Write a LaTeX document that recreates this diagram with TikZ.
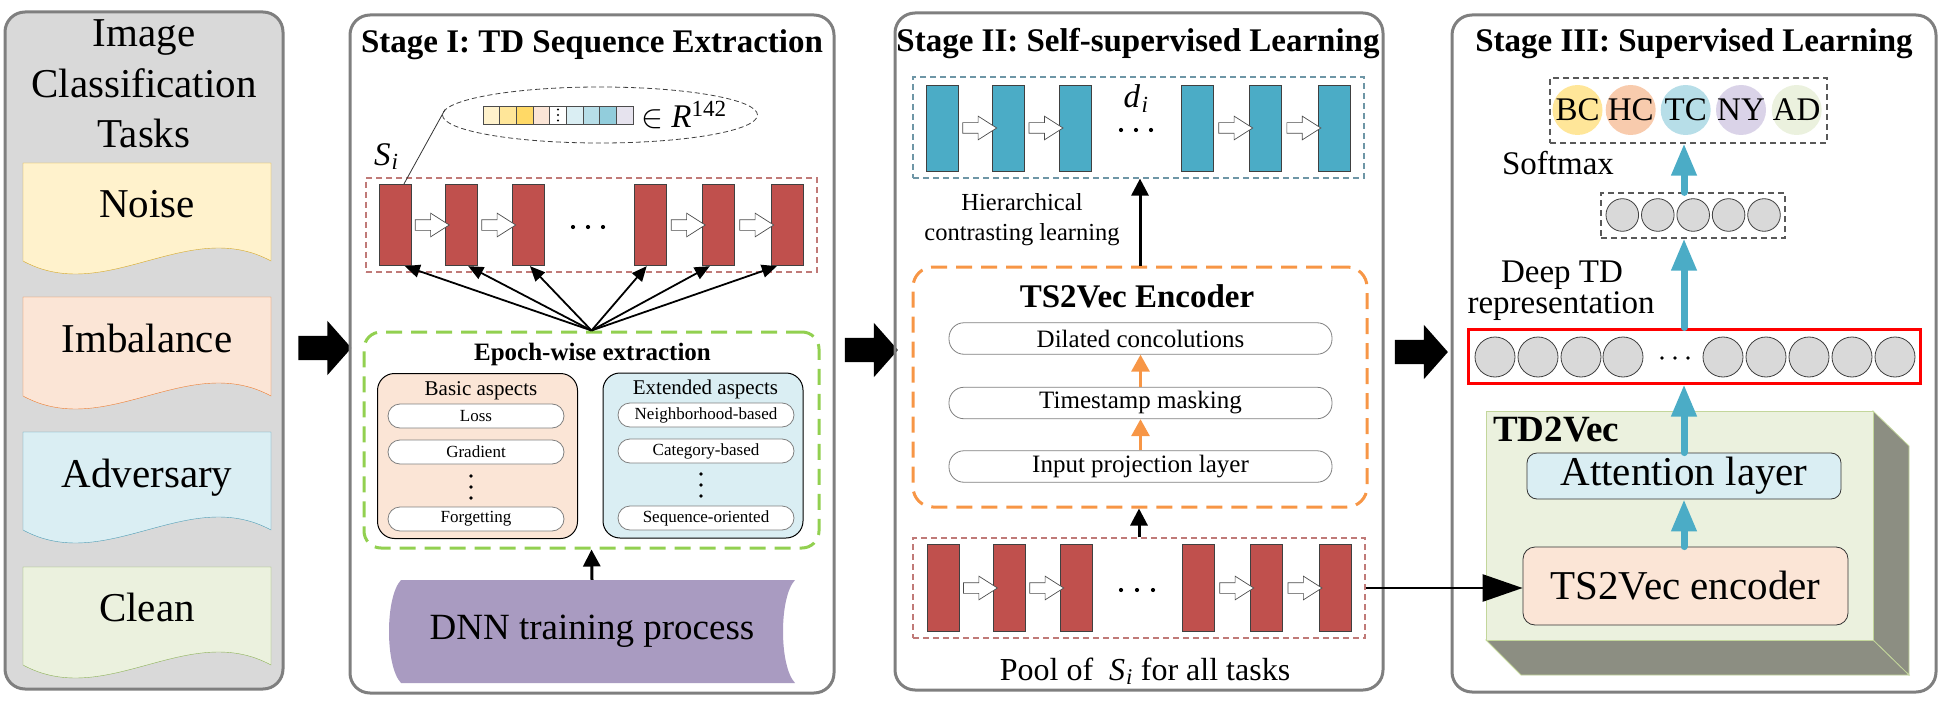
\documentclass[tikz,border=0pt]{standalone}
\usepackage{fix-cm}
\usepackage{fontspec}
\setmainfont{Liberation Serif}
\usetikzlibrary{arrows.meta,calc,positioning,shapes.geometric,shapes.arrows}

\definecolor{panelgray}{HTML}{7F7F7F}
\definecolor{panelfill}{HTML}{D9D9D9}
\definecolor{seqred}{HTML}{C0504D}
\definecolor{seqdash}{HTML}{C07A78}
\definecolor{tdteal}{HTML}{4BACC6}
\definecolor{tealdash}{HTML}{6E96A6}
\definecolor{encorange}{HTML}{F79646}
\definecolor{epochgreen}{HTML}{92D050}
\definecolor{peach}{HTML}{FBE5D6}
\definecolor{paleblue}{HTML}{DAEEF3}
\definecolor{palegreen}{HTML}{EBF1DE}
\definecolor{paleyellow}{HTML}{FFF2CC}
\definecolor{noiseline}{HTML}{D6A92A}
\definecolor{imbline}{HTML}{ED7D31}
\definecolor{advline}{HTML}{4F9DB5}
\definecolor{cleanline}{HTML}{8DB257}
\definecolor{dnnpurple}{HTML}{A99BC1}
\definecolor{sidegray}{HTML}{8C8E82}
\definecolor{boxgreen}{HTML}{C3D69B}
\definecolor{bcyellow}{HTML}{FFE699}
\definecolor{hcpeach}{HTML}{F8CBAD}
\definecolor{tcblue}{HTML}{B7DEE8}
\definecolor{nypurple}{HTML}{DAD3E8}
\definecolor{featgray}{HTML}{D9D9D9}
\definecolor{cellA}{HTML}{FFF2CC}
\definecolor{cellB}{HTML}{FFE699}
\definecolor{cellC}{HTML}{FFD966}
\definecolor{cellD}{HTML}{FBE5D6}
\definecolor{cellF}{HTML}{DAEEF3}
\definecolor{cellG}{HTML}{B7DEE8}
\definecolor{cellH}{HTML}{92CDDC}
\definecolor{cellI}{HTML}{E6E3EE}

\begin{document}
\begin{tikzpicture}[x=1pt,y=-1pt,
	panel/.style={draw=panelgray,line width=3pt,rounded corners=20pt},
	bigtext/.style={font=\fontsize{41}{49}\selectfont},
	titletext/.style={font=\fontsize{33}{40}\selectfont\bfseries},
	midtext/.style={font=\fontsize{33}{40}\selectfont},
	seqbox/.style={draw=black!75,line width=0.8pt,minimum width=32pt,inner sep=0pt},
	hollowarr/.style={single arrow,draw=black!70,fill=white,line width=0.7pt,inner sep=5pt,minimum height=34pt,single arrow head extend=6.5pt,single arrow tip angle=65},
	blockarr/.style={single arrow,fill=black,inner sep=12pt,minimum height=53pt,single arrow head extend=15pt,single arrow tip angle=97},
	groupbox/.style={dash pattern=on 6pt off 4pt,line width=1.2pt,inner sep=0pt},
	veccell/.style={draw=black!70,line width=0.8pt,minimum width=16.7pt,minimum height=18pt,inner sep=0pt},
	aspectbox/.style={draw=black,line width=1pt,rounded corners=17pt,minimum width=200pt,minimum height=165pt},
	aspectpill/.style={draw=black!50,fill=white,line width=0.8pt,rounded corners=12pt,minimum width=176pt,minimum height=24pt,inner sep=0pt,font=\fontsize{17}{17}\selectfont},
	layerpill/.style={draw=black!50,fill=white,line width=0.8pt,rounded corners=15pt,minimum width=383pt,minimum height=31.5pt,inner sep=0pt,font=\fontsize{25}{25}\selectfont},
	classdot/.style={circle,inner sep=0pt,minimum size=50pt},
	neuron/.style={circle,draw=black!75,fill=featgray,line width=0.8pt,inner sep=0pt},
	fanarrow/.style={-{Triangle[length=15pt,width=13pt]},line width=1.8pt},
	uparrow/.style={-{Triangle[length=17pt,width=17pt]},line width=3pt},
	orangearrow/.style={-{Triangle[length=17pt,width=18pt]},line width=3pt,encorange},
	tealarrow/.style={-{Triangle[length=32pt,width=24pt]},line width=7pt,line cap=round,tdteal}]

	\useasboundingbox (0,0) rectangle (1941,706);

	\draw[panel,fill=panelfill] (5,12) rectangle (283,689);
	\draw (144,47) node (task1)[anchor=base,bigtext]{Image};
	\draw (144,98) node (task2)[anchor=base,bigtext]{Classification};
	\draw (144,148) node (task3)[anchor=base,bigtext]{Tasks};

	\draw[draw=noiseline,fill=paleyellow] (23,163) -- (271,163) -- (271,261) .. controls (188,216) and (106,306) .. (23,261) -- cycle;
	\draw[draw=imbline,fill=peach] (23,297) -- (271,297) -- (271,396) .. controls (188,351) and (106,441) .. (23,396) -- cycle;
	\draw[draw=advline,fill=paleblue] (23,432) -- (271,432) -- (271,530) .. controls (188,485) and (106,575) .. (23,530) -- cycle;
	\draw[draw=cleanline,fill=palegreen] (23,567) -- (271,567) -- (271,665) .. controls (188,620) and (106,710) .. (23,665) -- cycle;
	\draw (147,217) node (noise)[anchor=base,bigtext]{Noise};
	\draw (147,352) node (imbalance)[anchor=base,bigtext]{Imbalance};
	\draw (147,487) node (adversary)[anchor=base,bigtext]{Adversary};
	\draw (147,621) node (clean)[anchor=base,bigtext]{Clean};

	\draw (319.5,348) node (arrA)[blockarr]{};
	\draw (866,350) node (arrB)[blockarr]{};
	\draw (1416,352) node (arrC)[blockarr]{};

	\draw[panel] (350,15) rectangle (834,693);
	\draw (592,53) node (stageA)[anchor=base,titletext]{Stage I: TD Sequence Extraction};

	\draw (600,115) node (vecell)[ellipse,draw=black!75,dash pattern=on 5pt off 3pt,line width=0.8pt,minimum width=315pt,minimum height=56pt]{};
	\draw (491.3,115) node (c1)[veccell,fill=cellA]{};
	\draw (508.0,115) node (c2)[veccell,fill=cellB]{};
	\draw (524.7,115) node (c3)[veccell,fill=cellC]{};
	\draw (541.3,115) node (c4)[veccell,fill=cellD]{};
	\draw (558.0,115) node (c5)[veccell,fill=white]{};
	\draw (574.7,115) node (c6)[veccell,fill=cellF]{};
	\draw (591.3,115) node (c7)[veccell,fill=cellG]{};
	\draw (608.0,115) node (c8)[veccell,fill=cellH]{};
	\draw (624.7,115) node (c9)[veccell,fill=cellI]{};
	\fill (558,109.5) circle (1.1) (558,115) circle (1.1) (558,120.5) circle (1.1);
	\draw (641,128) node (inR)[anchor=base west,midtext,inner sep=0pt]{$\in$ \textit{R}\textsuperscript{142}};
	\draw (374,165) node (Si)[anchor=base west,midtext,inner sep=0pt]{\textit{S}\kern1pt\textsubscript{\textit{i}}};

	\draw (591.5,225) node (seqgroup)[groupbox,draw=seqdash,minimum width=451pt,minimum height=94pt]{};
	\draw (395,225) node (r1)[seqbox,fill=seqred,minimum height=81.5pt]{};
	\draw (461,225) node (r2)[seqbox,fill=seqred,minimum height=81.5pt]{};
	\draw (528,225) node (r3)[seqbox,fill=seqred,minimum height=81.5pt]{};
	\draw (650,225) node (r4)[seqbox,fill=seqred,minimum height=81.5pt]{};
	\draw (718,225) node (r5)[seqbox,fill=seqred,minimum height=81.5pt]{};
	\draw (787,225) node (r6)[seqbox,fill=seqred,minimum height=81.5pt]{};
	\draw ($(r1.east)!0.5!(r2.west)$) node (h1)[hollowarr]{};
	\draw ($(r2.east)!0.5!(r3.west)$) node (h2)[hollowarr]{};
	\draw ($(r4.east)!0.5!(r5.west)$) node (h3)[hollowarr]{};
	\draw ($(r5.east)!0.5!(r6.west)$) node (h4)[hollowarr]{};
	\fill (573,227) circle (2.1) (588,227) circle (2.1) (603,227) circle (2.1);
	\draw[line width=0.8pt,black!80] (vecell.178) -- ($(r1.north)+(9,0)$);

	\draw (591.5,440) node (epochbox)[draw=epochgreen,line width=3pt,dash pattern=on 16pt off 9pt,rounded corners=17pt,minimum width=455pt,minimum height=216pt]{};
	\draw (592.5,360) node (epochtitle)[anchor=base,font=\fontsize{25}{30}\selectfont\bfseries]{Epoch-wise extraction};
	\draw[fanarrow] (epochbox.north) -- ($(r1.south west)!0.8!(r1.south east)$);
	\draw[fanarrow] (epochbox.north) -- ($(r2.south west)!0.72!(r2.south east)$);
	\draw[fanarrow] (epochbox.north) -- ($(r3.south west)!0.56!(r3.south east)$);
	\draw[fanarrow] (epochbox.north) -- ($(r4.south west)!0.4!(r4.south east)$);
	\draw[fanarrow] (epochbox.north) -- ($(r5.south west)!0.25!(r5.south east)$);
	\draw[fanarrow] (epochbox.north) -- ($(r6.south west)!0.19!(r6.south east)$);

	\draw (477.5,456) node (basic)[aspectbox,fill=peach]{};
	\draw (703,455.5) node (extended)[aspectbox,fill=paleblue]{};
	\draw (481,395) node (basictitle)[anchor=base,font=\fontsize{21}{25}\selectfont]{Basic aspects};
	\draw (705.5,394) node (exttitle)[anchor=base,font=\fontsize{21}{25}\selectfont]{Extended aspects};
	\draw (476,416) node (loss)[aspectpill]{Loss};
	\draw (476,452) node (grad)[aspectpill]{Gradient};
	\draw (476,519) node (forget)[aspectpill]{Forgetting};
	\draw (706,415) node (neigh)[aspectpill]{Neighborhood-based};
	\draw (706,451) node (categ)[aspectpill]{Category-based};
	\draw (706,518) node (seqor)[aspectpill]{Sequence-oriented};
	\fill (471,476) circle (1.9) (471,487) circle (1.9) (471,498) circle (1.9);
	\fill (701,474) circle (1.9) (701,485) circle (1.9) (701,496) circle (1.9);

	\fill[dnnpurple] (401,580) -- (795,580) .. controls (779,597) and (779,666) .. (795,683) -- (401,683) .. controls (385,666) and (385,597) .. (401,580) -- cycle;
	\draw (592,631.5) node (dnn)[minimum width=394pt,minimum height=103pt,inner sep=0pt,font=\fontsize{37}{44}\selectfont]{DNN training process};
	\draw[uparrow] (dnn.north) -- (epochbox.south);

	\draw[panel] (895,13) rectangle (1383,690);
	\draw (1138,52) node (stageB)[anchor=base,titletext]{Stage II: Self-supervised Learning};

	\draw (1138.5,127.5) node (tealgroup)[groupbox,draw=tealdash,minimum width=451pt,minimum height=101pt]{};
	\draw (942.7,128) node (t1)[seqbox,fill=tdteal,minimum height=86pt]{};
	\draw (1008.3,128) node (t2)[seqbox,fill=tdteal,minimum height=86pt]{};
	\draw (1075.3,128) node (t3)[seqbox,fill=tdteal,minimum height=86pt]{};
	\draw (1197.7,128) node (t4)[seqbox,fill=tdteal,minimum height=86pt]{};
	\draw (1265.3,128) node (t5)[seqbox,fill=tdteal,minimum height=86pt]{};
	\draw (1334,128) node (t6)[seqbox,fill=tdteal,minimum height=86pt]{};
	\draw ($(t1.east)!0.5!(t2.west)$) node (g1)[hollowarr]{};
	\draw ($(t2.east)!0.5!(t3.west)$) node (g2)[hollowarr]{};
	\draw ($(t4.east)!0.5!(t5.west)$) node (g3)[hollowarr]{};
	\draw ($(t5.east)!0.5!(t6.west)$) node (g4)[hollowarr]{};
	\draw (1136,99) node (di)[midtext,inner sep=0pt]{\textit{d}\kern1.5pt\textsubscript{\textit{i}}};
	\fill (1121,130) circle (2.1) (1136,130) circle (2.1) (1151,130) circle (2.1);
	\draw (1022,210) node (hier1)[anchor=base,font=\fontsize{24.5}{29}\selectfont]{Hierarchical};
	\draw (1022,240) node (hier2)[anchor=base,font=\fontsize{24.5}{29}\selectfont]{contrasting learning};

	\draw (1140,387) node (encbox)[draw=encorange,line width=3pt,dash pattern=on 16pt off 9pt,rounded corners=20pt,minimum width=454pt,minimum height=240pt]{};
	\draw (1137,307) node (enctitle)[anchor=base,titletext]{TS2Vec Encoder};
	\draw (1140.5,338.5) node (dil)[layerpill]{Dilated concolutions};
	\draw (1140.5,403) node (tsm)[layerpill]{Timestamp masking};
	\draw (1140.5,466.5) node (inp)[layerpill]{Input projection layer};
	\draw[orangearrow] (inp.north) -- (tsm.south);
	\draw[orangearrow] (tsm.north) -- (dil.south);
	\draw[uparrow] (encbox.north) -- (encbox.north |- tealgroup.south);

	\draw (1139,588) node (poolgroup)[groupbox,draw=seqdash,minimum width=452pt,minimum height=100pt]{};
	\draw (943.5,588) node (p1)[seqbox,fill=seqred,minimum height=87pt]{};
	\draw (1009,588) node (p2)[seqbox,fill=seqred,minimum height=87pt]{};
	\draw (1076,588) node (p3)[seqbox,fill=seqred,minimum height=87pt]{};
	\draw (1198.5,588) node (p4)[seqbox,fill=seqred,minimum height=87pt]{};
	\draw (1266.5,588) node (p5)[seqbox,fill=seqred,minimum height=87pt]{};
	\draw (1335,588) node (p6)[seqbox,fill=seqred,minimum height=87pt]{};
	\draw ($(p1.east)!0.5!(p2.west)$) node (q1)[hollowarr]{};
	\draw ($(p2.east)!0.5!(p3.west)$) node (q2)[hollowarr]{};
	\draw ($(p4.east)!0.5!(p5.west)$) node (q3)[hollowarr]{};
	\draw ($(p5.east)!0.5!(p6.west)$) node (q4)[hollowarr]{};
	\fill (1121,590) circle (2.1) (1137,590) circle (2.1) (1153,590) circle (2.1);
	\draw (1145,680) node (pooltext)[anchor=base,font=\fontsize{32}{38}\selectfont]{Pool of \ \textit{S}\kern1pt\textsubscript{\textit{i}} for all tasks};
	\draw[uparrow] (poolgroup.north) -- (poolgroup.north |- encbox.south);

	\draw[panel] (1452,15) rectangle (1936,692);
	\draw (1694,52) node (stageC)[anchor=base,titletext]{Stage III: Supervised Learning};

	\draw (1688.5,110.5) node (outgroup)[groupbox,draw=black!65,minimum width=277pt,minimum height=65pt]{};
	\draw (1577.5,110) node (bc)[classdot,fill=bcyellow,label={[midtext]center:BC}]{};
	\draw (1630.7,110) node (hc)[classdot,fill=hcpeach,label={[midtext]center:HC}]{};
	\draw (1685.7,110) node (tc)[classdot,fill=tcblue,label={[midtext]center:TC}]{};
	\draw (1741,110) node (ny)[classdot,fill=nypurple,label={[midtext]center:NY}]{};
	\draw (1796.7,110) node (ad)[classdot,fill=palegreen,label={[midtext]center:AD}]{};
	\draw (1558,175) node (softmax)[anchor=base,midtext]{Softmax};

	\draw (1693,215.5) node (softgroup)[groupbox,draw=black!65,minimum width=184pt,minimum height=45pt]{};
	\draw (1622.3,215) node (s1)[neuron,minimum size=32.6pt]{};
	\draw (1657.8,215) node (s2)[neuron,minimum size=32.6pt]{};
	\draw (1693.2,215) node (s3)[neuron,minimum size=32.6pt]{};
	\draw (1728.6,215) node (s4)[neuron,minimum size=32.6pt]{};
	\draw (1764,215) node (s5)[neuron,minimum size=32.6pt]{};
	\draw (1562,282) node (deep1)[anchor=base,midtext]{Deep TD};
	\draw (1561,313) node (deep2)[anchor=base,midtext]{representation};

	\draw (1694,356) node (featbox)[draw=red,line width=3pt,minimum width=452pt,minimum height=54pt]{};
	\draw (1495,357) node (f1)[neuron,minimum size=40pt]{};
	\draw (1538,357) node (f2)[neuron,minimum size=40pt]{};
	\draw (1581,357) node (f3)[neuron,minimum size=40pt]{};
	\draw (1623,357) node (f4)[neuron,minimum size=40pt]{};
	\draw (1723,357) node (f5)[neuron,minimum size=40pt]{};
	\draw (1766,357) node (f6)[neuron,minimum size=40pt]{};
	\draw (1809,357) node (f7)[neuron,minimum size=40pt]{};
	\draw (1852,357) node (f8)[neuron,minimum size=40pt]{};
	\draw (1895,357) node (f9)[neuron,minimum size=40pt]{};
	\fill (1662,358) circle (1.8) (1675,358) circle (1.8) (1688,358) circle (1.8);

	\draw[draw=boxgreen,fill=sidegray,line width=0.8pt] (1873,411) -- (1909,446) -- (1909,675) -- (1873,640) -- cycle;
	\draw[draw=boxgreen,fill=sidegray,line width=0.8pt] (1486,640) -- (1521,675) -- (1909,675) -- (1873,640) -- cycle;
	\draw (1679.5,525.5) node (td2vec)[draw=boxgreen,fill=palegreen,line width=1pt,minimum width=387pt,minimum height=229pt]{};
	\draw (1493,441) node (td2vectitle)[anchor=base west,inner sep=0pt,font=\fontsize{37}{44}\selectfont\bfseries]{TD2Vec};
	\draw (1684,476) node (attn)[draw=black!80,fill=paleblue,line width=0.8pt,rounded corners=10pt,minimum width=314pt,minimum height=46pt,inner sep=2pt,bigtext]{Attention layer};
	\draw (1685.5,586) node (tsenc)[draw=black!80,fill=peach,line width=0.8pt,rounded corners=12pt,minimum width=325pt,minimum height=78pt,inner sep=2pt,bigtext]{TS2Vec encoder};

	\draw[tealarrow] (tsenc.north -| attn.north) -- (attn.south);
	\draw[tealarrow] (attn.north) -- (attn.north |- featbox.south);
	\draw[tealarrow] (attn.north |- featbox.north) -- (attn.north |- softgroup.south);
	\draw[tealarrow] (attn.north |- softgroup.north) -- (attn.north |- outgroup.south);
	\draw[-{Triangle[length=40pt,width=27pt]},line width=2.5pt] (poolgroup.east) -- (poolgroup.east -| tsenc.west);
\end{tikzpicture}
\end{document}
